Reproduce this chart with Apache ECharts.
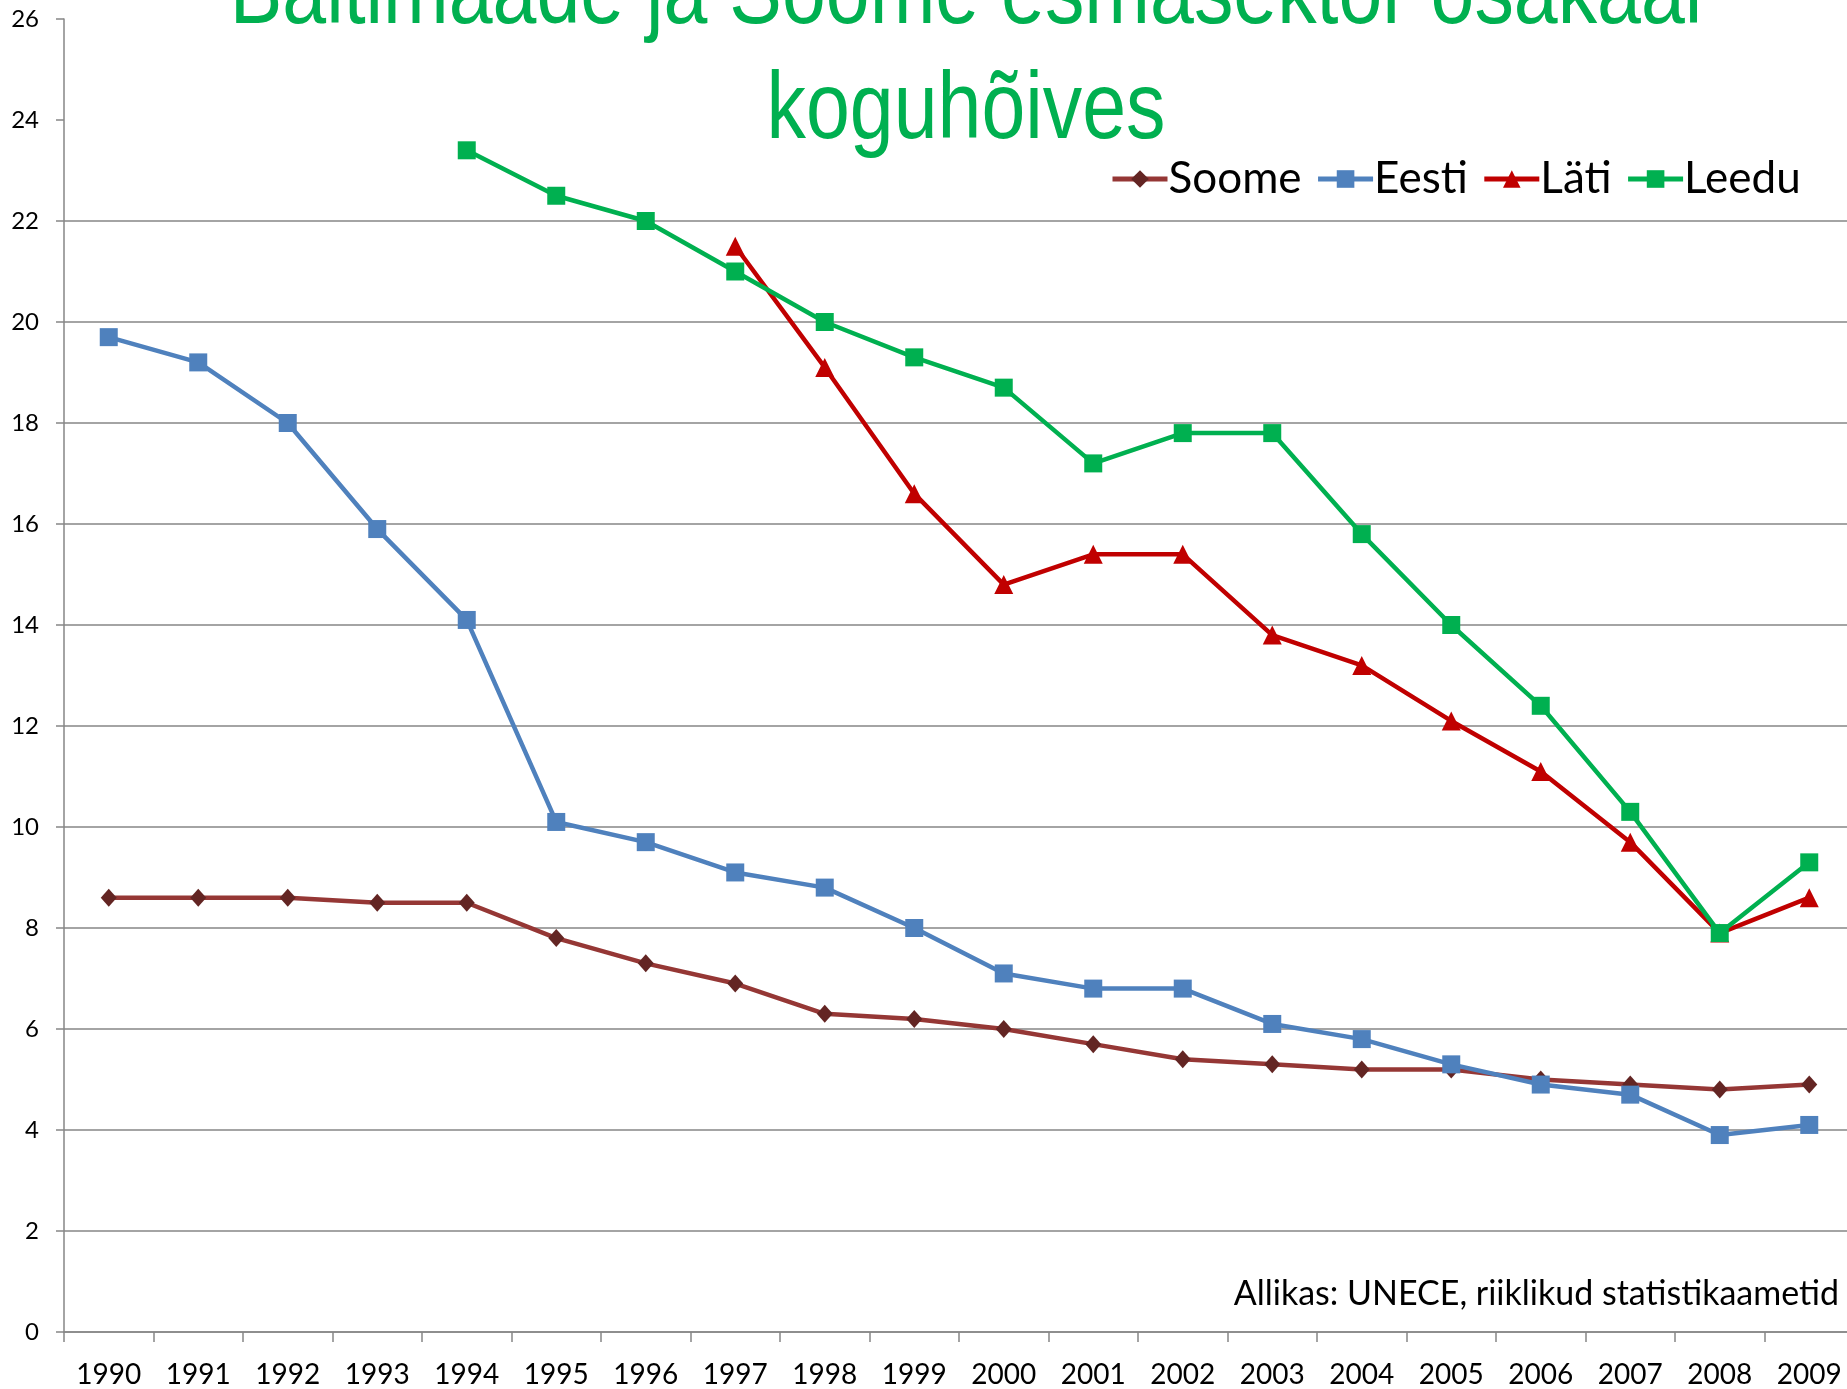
<!DOCTYPE html>
<html>
<head>
<meta charset="utf-8">
<title>Baltimaade ja Soome esmasektor osakaal koguhõives</title>
<script src="https://cdn.jsdelivr.net/npm/echarts@6/dist/echarts.min.js"></script>
<style>
  html, body { margin: 0; padding: 0; background: #fff; }
  #chart { width: 1847px; height: 1389px; }
</style>
</head>
<body>
<div id="chart"></div>
<script>
// aastad
const years = ['1990', '1991', '1992', '1993', '1994', '1995', '1996', '1997', '1998', '1999',
  '2000', '2001', '2002', '2003', '2004', '2005', '2006', '2007', '2008', '2009'];

// esmasektori osakaal koguhõives, %
const soome = [8.6, 8.6, 8.6, 8.5, 8.5, 7.8, 7.3, 6.9, 6.3, 6.2,
  6.0, 5.7, 5.4, 5.3, 5.2, 5.2, 5.0, 4.9, 4.8, 4.9];
const eesti = [19.7, 19.2, 18.0, 15.9, 14.1, 10.1, 9.7, 9.1, 8.8, 8.0,
  7.1, 6.8, 6.8, 6.1, 5.8, 5.3, 4.9, 4.7, 3.9, 4.1];
const lati = [null, null, null, null, null, null, null, 21.5, 19.1, 16.6,
  14.8, 15.4, 15.4, 13.8, 13.2, 12.1, 11.1, 9.7, 7.9, 8.6];
const leedu = [null, null, null, null, 23.4, 22.5, 22.0, 21.0, 20.0, 19.3,
  18.7, 17.2, 17.8, 17.8, 15.8, 14.0, 12.4, 10.3, 7.9, 9.3];

const titleLines = ['Baltimaade ja Soome esmasektor osakaal', 'koguhõives'];

const chart = echarts.init(document.getElementById('chart'));

const axisGrey = '#868686';
const font = 'Lato';

// pealkirja taust katab 24 ja 26 jooned
const splitColors = [];
for (let i = 0; i < 14; i++) {
  splitColors.push(i >= 12 ? 'rgba(0,0,0,0)' : axisGrey);
}

function lineSeries(name, data, color, symbol, size, markerColor) {
  return {
    name: name,
    type: 'line',
    data: data,
    symbol: symbol,
    symbolSize: size,
    connectNulls: false,
    lineStyle: { width: 4.5, color: color },
    itemStyle: { color: markerColor || color },
    emphasis: { disabled: true },
  };
}

// kitsendatud pealkiri (Arial Narrow asemel)
function titleText(text, y) {
  return {
    type: 'text',
    x: 966,
    y: y,
    scaleX: 0.83,
    z: 10,
    style: {
      text: text,
      fontFamily: 'Liberation Sans',
      fontSize: 95,
      fill: '#00B050',
      textAlign: 'center',
      textVerticalAlign: 'middle',
    },
  };
}

const option = {
  animation: false,
  backgroundColor: '#fff',
  legend: {
    left: 1105,
    top: 152,
    itemWidth: 55,
    itemHeight: 22,
    itemGap: 14,
    lineStyle: { width: 5 },
    textStyle: { fontFamily: font, fontSize: 44, color: '#000', padding: [0, 0, 0, -4] },
    data: ['Soome', 'Eesti', 'Läti', 'Leedu'],
  },
  graphic: [
    titleText(titleLines[0], -3),
    titleText(titleLines[1], 112),
    {
      type: 'text',
      right: 8,
      top: 1277,
      style: {
        text: 'Allikas: UNECE, riiklikud statistikaametid',
        fontFamily: font,
        fontSize: 34,
        fill: '#000',
      },
    },
  ],
  grid: {
    left: 64,
    top: 19,
    width: 1790,
    bottom: 57,
    outerBoundsMode: 'none',
  },
  xAxis: {
    type: 'category',
    data: years,
    boundaryGap: true,
    axisLine: { lineStyle: { color: axisGrey, width: 1.5 } },
    axisTick: { show: true, length: 10, lineStyle: { color: axisGrey, width: 1.5 } },
    axisLabel: { fontFamily: font, fontSize: 28, color: '#000', margin: 29, interval: 0 },
    splitLine: { show: false },
  },
  yAxis: {
    type: 'value',
    min: 0,
    max: 26,
    interval: 2,
    axisLine: { show: true, lineStyle: { color: axisGrey, width: 1.5 } },
    axisTick: { show: true, length: 8, lineStyle: { color: axisGrey, width: 1.5 } },
    axisLabel: { fontFamily: font, fontSize: 24, color: '#000', margin: 25 },
    splitLine: { show: true, lineStyle: { color: splitColors, width: 1.5 } },
  },
  series: [
    lineSeries('Soome', soome, '#953735', 'diamond', [16, 18], '#632523'),
    lineSeries('Eesti', eesti, '#4F81BD', 'rect', 18),
    lineSeries('Läti', lati, '#C00000', 'triangle', 19),
    lineSeries('Leedu', leedu, '#00B050', 'rect', 18),
  ],
};

chart.setOption(option);
</script>
</body>
</html>
